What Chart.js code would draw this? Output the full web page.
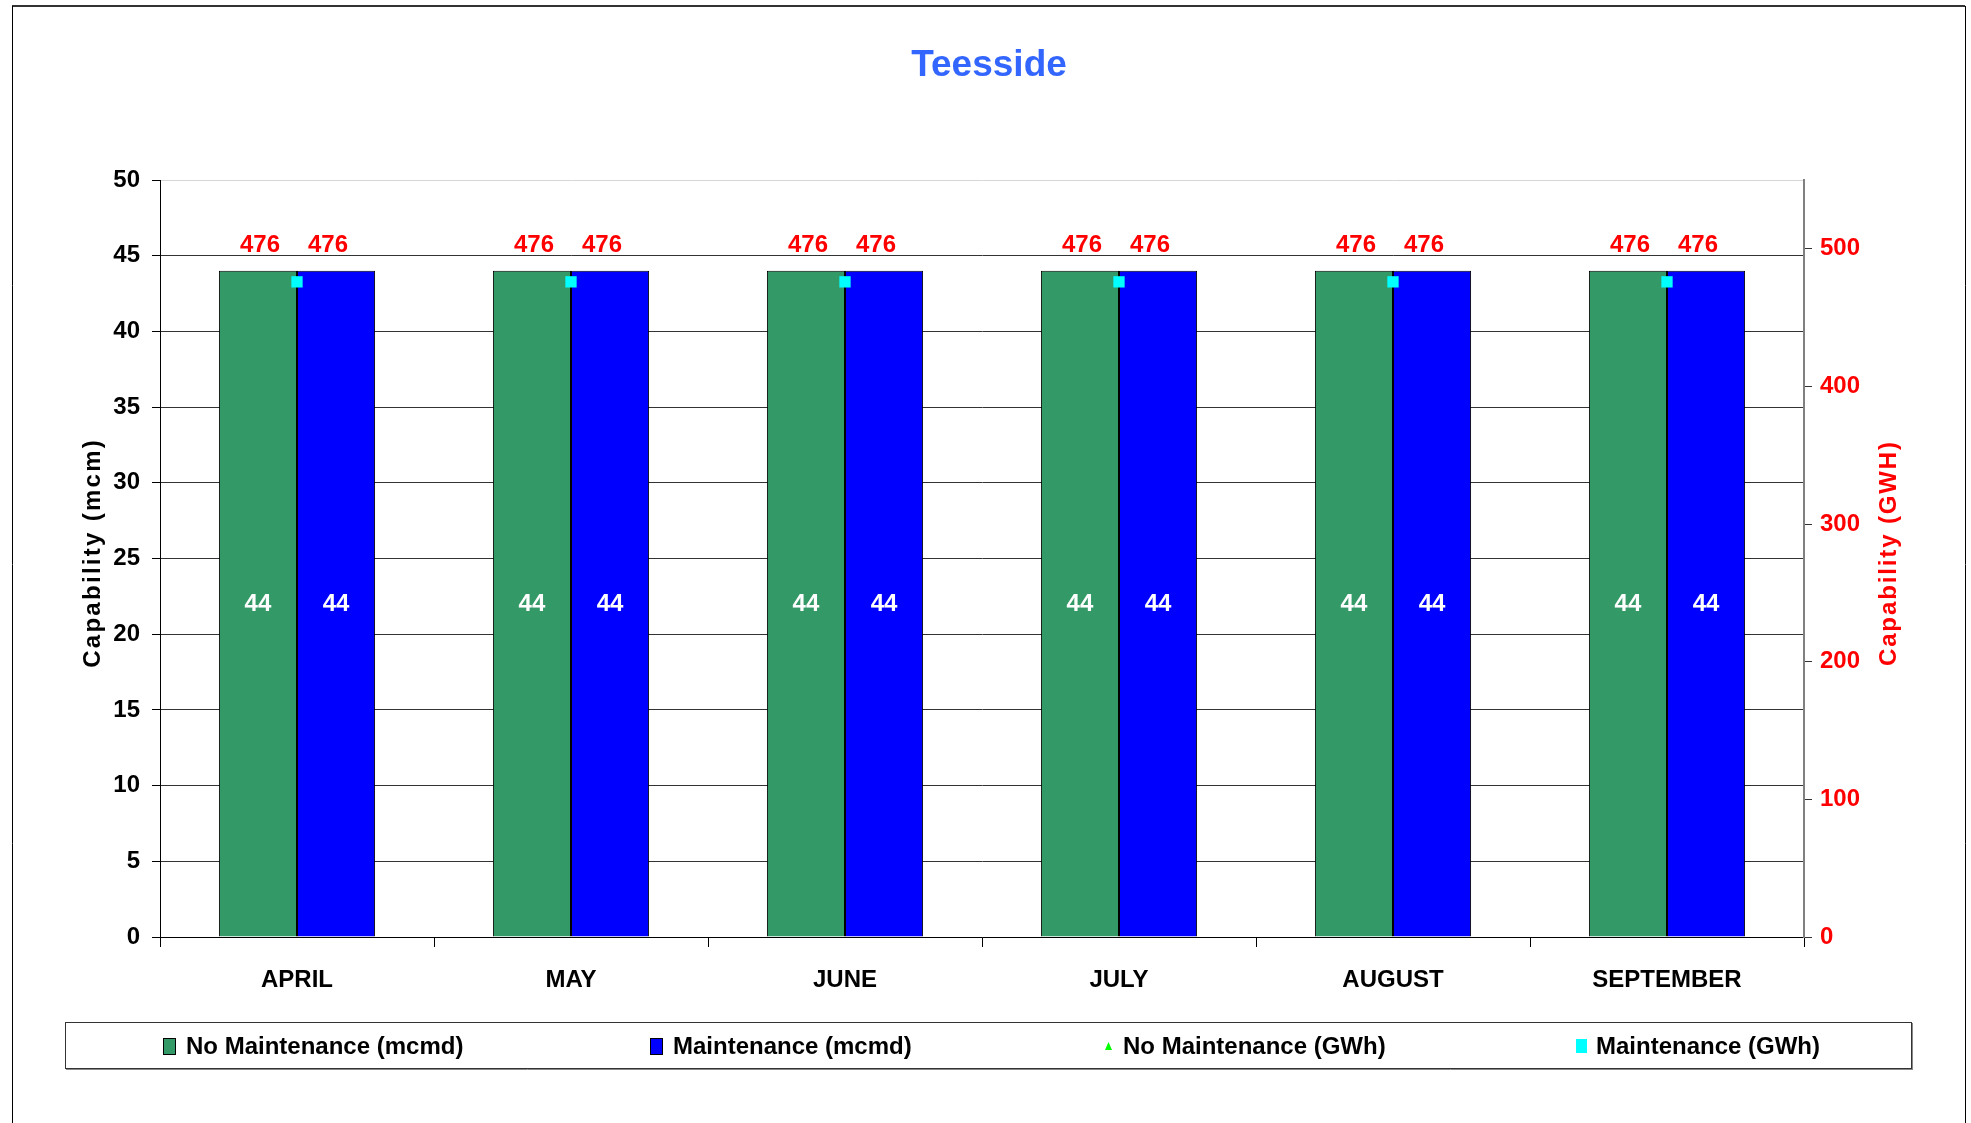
<!DOCTYPE html>
<html>
<head>
<meta charset="utf-8">
<title>Teesside</title>
<script src="https://cdn.jsdelivr.net/npm/chart.js@4.4.1/dist/chart.umd.min.js"></script>
<style>
  html, body { margin: 0; padding: 0; background: #fff; }
  canvas { display: block; }
</style>
</head>
<body>
<canvas id="myChart" width="1971" height="1123"></canvas>
<script>
// values
const months = ['APRIL', 'MAY', 'JUNE', 'JULY', 'AUGUST', 'SEPTEMBER'];
const noMaintMcmd = [44, 44, 44, 44, 44, 44];
const maintMcmd = [44, 44, 44, 44, 44, 44];
const noMaintGwh = [476, 476, 476, 476, 476, 476];
const maintGwh = [476, 476, 476, 476, 476, 476];
const leftMax = 50, leftStep = 5;
const rightMax = 550, rightStep = 100, rightLastTick = 500;

const FONT = "'Liberation Sans', Arial, sans-serif";
const FS = 24;
Chart.defaults.font.family = FONT;
Chart.defaults.font.weight = 'bold';
Chart.defaults.font.size = FS;
Chart.defaults.color = '#000';

const ctx = document.getElementById('myChart');

// frame, title, axis titles and legend box
const decor = {
  id: 'decor',
  beforeDraw(chart) {
    const c = chart.ctx;
    c.save();
    c.strokeStyle = '#333';
    c.lineWidth = 2;
    c.beginPath(); c.moveTo(12, 6); c.lineTo(1965, 6); c.stroke();
    c.lineWidth = 1;
    c.strokeStyle = '#000';
    c.beginPath();
    c.moveTo(12.5, 6); c.lineTo(12.5, 1123);
    c.moveTo(1965.5, 6); c.lineTo(1965.5, 1123);
    c.stroke();
    c.restore();
  },
  afterDraw(chart) {
    const c = chart.ctx;
    c.save();
    c.textAlign = 'center';
    c.textBaseline = 'middle';

    c.font = 'bold 37px ' + FONT;
    c.fillStyle = '#3366FF';
    c.fillText('Teesside', 989, 66);

    function sideTitle(text, x, y, color, len) {
      c.save();
      c.font = 'bold ' + FS + 'px ' + FONT;
      c.letterSpacing = '0px';
      const w = c.measureText(text).width;
      const sp = Math.max(0, (len - w) / text.length);
      c.letterSpacing = sp + 'px';
      c.translate(x, y);
      c.rotate(-Math.PI / 2);
      c.fillStyle = color;
      c.fillText(text, sp / 2, 0);
      c.restore();
    }
    sideTitle('Capability (mcm)', 93, 554, '#000', 230);
    sideTitle('Capability (GWH)', 1889, 554, '#FF0000', 226);

    // legend
    c.strokeStyle = '#333';
    c.lineWidth = 1;
    c.strokeRect(65.5, 1022.5, 1846, 46);
    c.beginPath();
    c.moveTo(66, 1069.5); c.lineTo(1912, 1069.5);
    c.moveTo(1912.5, 1023); c.lineTo(1912.5, 1070);
    c.strokeStyle = '#888'; c.stroke();

    const items = [
      { x: 163, tx: 186, ds: 0, kind: 'box' },
      { x: 650, tx: 673, ds: 1, kind: 'box' },
      { x: 1105, tx: 1123, ds: 2, kind: 'tri' },
      { x: 1576, tx: 1596, ds: 3, kind: 'rect' }
    ];
    const ly = 1046;
    c.font = 'bold ' + FS + 'px ' + FONT;
    c.textAlign = 'left';
    items.forEach(it => {
      const d = chart.data.datasets[it.ds];
      if (it.kind === 'box') {
        c.fillStyle = d.backgroundColor;
        c.fillRect(it.x, ly - 8, 13, 17);
        c.strokeStyle = '#000';
        c.strokeRect(it.x + 0.5, ly - 7.5, 12, 16);
      } else if (it.kind === 'tri') {
        c.fillStyle = d.pointBackgroundColor;
        c.beginPath();
        c.moveTo(it.x + 3.5, ly - 4); c.lineTo(it.x + 7, ly + 4); c.lineTo(it.x, ly + 4);
        c.closePath(); c.fill();
      } else {
        c.fillStyle = d.pointBackgroundColor;
        c.fillRect(it.x, ly - 7, 11, 14);
      }
      c.fillStyle = '#000';
      c.fillText(d.label, it.tx, ly + 1);
    });
    c.restore();
  }
};

// value labels
const valueLabels = {
  id: 'valueLabels',
  afterDatasetsDraw(chart) {
    const c = chart.ctx;
    c.save();
    c.font = 'bold ' + FS + 'px ' + FONT;
    c.textAlign = 'center';
    c.textBaseline = 'middle';
    const shift = [0, 0, -37, 31];
    chart.data.datasets.forEach((d, i) => {
      const meta = chart.getDatasetMeta(i);
      meta.data.forEach((el, j) => {
        const v = d.data[j];
        if (d.type === 'bar') {
          c.fillStyle = '#fff';
          c.fillText(v, el.x, (el.y + el.base) / 2 + 1);
        } else {
          c.fillStyle = '#FF0000';
          c.fillText(v, el.x + shift[i], el.y - 36);
        }
      });
    });
    c.restore();
  }
};

new Chart(ctx, {
  data: {
    labels: months,
    datasets: [{
      type: 'bar',
      label: 'No Maintenance (mcmd)',
      data: noMaintMcmd,
      backgroundColor: '#339966',
      borderColor: '#000',
      borderWidth: 1,
      yAxisID: 'y',
      order: 2
    }, {
      type: 'bar',
      label: 'Maintenance (mcmd)',
      data: maintMcmd,
      backgroundColor: '#0000FF',
      borderColor: '#000',
      borderWidth: 1,
      yAxisID: 'y',
      order: 2
    }, {
      type: 'line',
      label: 'No Maintenance (GWh)',
      data: noMaintGwh,
      showLine: false,
      pointStyle: 'triangle',
      pointRadius: 5,
      pointBackgroundColor: '#00FF00',
      pointBorderColor: '#00FF00',
      yAxisID: 'y1',
      order: 1
    }, {
      type: 'line',
      label: 'Maintenance (GWh)',
      data: maintGwh,
      showLine: false,
      pointStyle: 'rect',
      pointRadius: 8,
      pointBorderWidth: 0,
      pointBackgroundColor: '#00FFFF',
      pointBorderColor: '#00FFFF',
      yAxisID: 'y1',
      order: 0
    }]
  },
  options: {
    responsive: false,
    animation: false,
    events: [],
    layout: { padding: { top: 180, left: 0, right: 67, bottom: 116 } },
    datasets: { bar: { categoryPercentage: 0.57, barPercentage: 1 } },
    plugins: {
      legend: { display: false },
      title: { display: false },
      tooltip: { enabled: false }
    },
    scales: {
      x: {
        afterFit(s) { s.height = 70; },
        border: { color: '#000', width: 1 },
        grid: { drawOnChartArea: false, drawTicks: true, tickLength: 10, color: '#000', offset: true },
        ticks: { padding: 19, color: '#000' }
      },
      y: {
        position: 'left',
        min: 0,
        max: leftMax,
        afterFit(s) { s.width = 160; },
        border: { color: '#000', width: 1 },
        grid: {
          color: c => c.tick && c.tick.value === leftMax ? '#d6d6d6' : '#333',
          tickColor: '#000',
          tickLength: 8
        },
        ticks: { stepSize: leftStep, padding: 12, color: '#000' }
      },
      y1: {
        position: 'right',
        min: 0,
        max: rightMax,
        afterFit(s) { s.width = 100; },
        afterBuildTicks(s) { s.ticks = s.ticks.filter(t => t.value <= rightLastTick); },
        border: { color: '#808080', width: 2 },
        grid: { drawOnChartArea: false, tickColor: '#333', tickLength: 8 },
        ticks: { stepSize: rightStep, padding: 8, color: '#FF0000' }
      }
    }
  },
  plugins: [decor, valueLabels]
});
</script>
</body>
</html>
